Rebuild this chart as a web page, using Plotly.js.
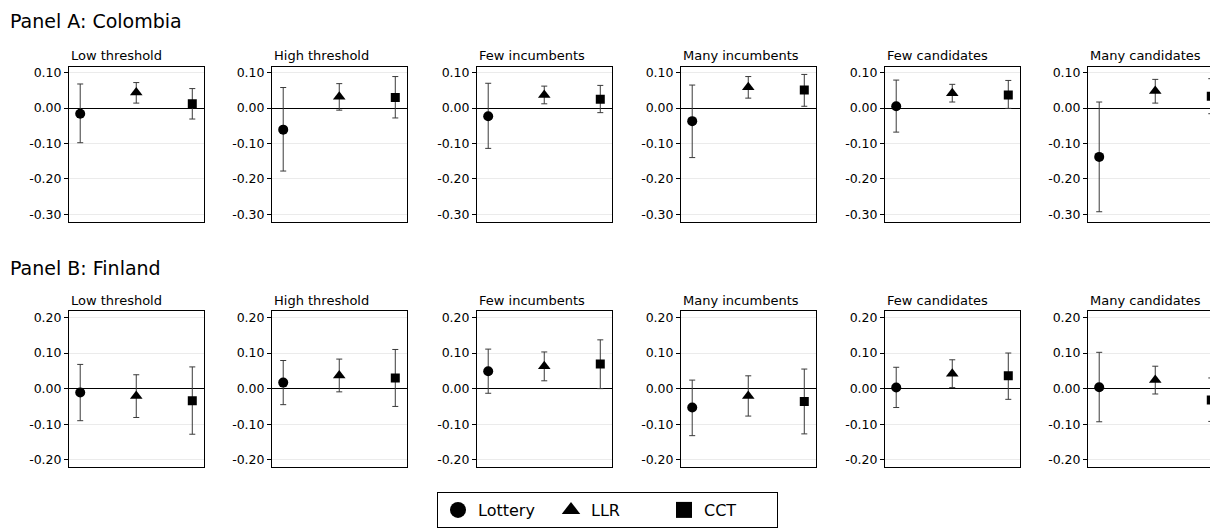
<!DOCTYPE html>
<html><head><meta charset="utf-8">
<script src="https://cdn.plot.ly/plotly-3.0.1.min.js"></script>
<style>html,body{margin:0;padding:0;overflow:hidden;background:#fff}#chart{width:1226px;height:529px}</style>
</head><body><div id="chart"></div>
<script>
// ---------------- DATA ----------------
const subgroups = ['Low threshold', 'High threshold', 'Few incumbents', 'Many incumbents', 'Few candidates', 'Many candidates'];
const estimators = ['Lottery', 'LLR', 'CCT'];
const panelTitles = ['Panel A: Colombia', 'Panel B: Finland'];

// Panel A: Colombia
const colLotteryEst = [-0.016, -0.061, -0.023, -0.037, 0.005, -0.138];
const colLotteryLo  = [-0.098, -0.178, -0.114, -0.140, -0.068, -0.293];
const colLotteryHi  = [ 0.068,  0.058,  0.070,  0.065,  0.079,  0.017];
const colLLREst     = [ 0.044,  0.032,  0.037,  0.059,  0.042,  0.048];
const colLLRLo      = [ 0.014, -0.006,  0.012,  0.028,  0.017,  0.014];
const colLLRHi      = [ 0.072,  0.069,  0.062,  0.089,  0.067,  0.081];
const colCCTEst     = [ 0.012,  0.030,  0.025,  0.051,  0.037,  0.033];
const colCCTLo      = [-0.031, -0.028, -0.013,  0.005, -0.001, -0.016];
const colCCTHi      = [ 0.055,  0.089,  0.064,  0.095,  0.078,  0.083];

// Panel B: Finland
const finLotteryEst = [-0.011,  0.017,  0.049, -0.053,  0.003,  0.004];
const finLotteryLo  = [-0.090, -0.045, -0.013, -0.132, -0.053, -0.093];
const finLotteryHi  = [ 0.068,  0.079,  0.111,  0.024,  0.060,  0.102];
const finLLREst     = [-0.021,  0.037,  0.063, -0.021,  0.042,  0.024];
const finLLRLo      = [-0.081, -0.009,  0.022, -0.077,  0.003, -0.015];
const finLLRHi      = [ 0.039,  0.083,  0.103,  0.036,  0.081,  0.063];
const finCCTEst     = [-0.034,  0.030,  0.069, -0.036,  0.036, -0.032];
const finCCTLo      = [-0.128, -0.050,  0.000, -0.127, -0.030, -0.092];
const finCCTHi      = [ 0.061,  0.110,  0.137,  0.055,  0.100,  0.030];

const tickValsA = [0.10, 0.00, -0.10, -0.20, -0.30];
const tickValsB = [0.20, 0.10, 0.00, -0.10, -0.20];

// ---------------- LAYOUT HELPERS ----------------
const W = 1226, H = 529;
const FONT = 'DejaVu Sans, sans-serif';
const symbols = ['circle', 'triangle-up', 'square'];
const sizes = [10, 11, 9];
const panelLeftPx = [69, 272, 477, 681, 885, 1088];
const panelWidthPx = 134.5;
const rowTopPx = [67, 311], rowBottomPx = [222, 467];
const rowRanges = [[-0.322, 0.116], [-0.22, 0.218]];
const rowTicks = [tickValsA, tickValsB];
const subTitleY = [55, 300];
const panelTitleY = [21, 268];

const countries = [
  [[colLotteryEst, colLotteryLo, colLotteryHi], [colLLREst, colLLRLo, colLLRHi], [colCCTEst, colCCTLo, colCCTHi]],
  [[finLotteryEst, finLotteryLo, finLotteryHi], [finLLREst, finLLRLo, finLLRHi], [finCCTEst, finCCTLo, finCCTHi]]
];

const barTraces = [];
const markerTraces = [];
const layout = {
  width: W, height: H,
  margin: {l: 0, r: 0, t: 0, b: 0},
  paper_bgcolor: '#fff', plot_bgcolor: '#fff',
  font: {family: FONT, color: '#000'},
  showlegend: true,
  annotations: [],
  legend: {
    orientation: 'h', x: 437 / W, y: 1 - 492 / H, xanchor: 'left', yanchor: 'top',
    bordercolor: '#000', borderwidth: 1, bgcolor: '#fff',
    font: {family: FONT, size: 16, color: '#000'},
    entrywidth: 68, entrywidthmode: 'pixels'
  }
};

for (let r = 0; r < 2; r++) {
  for (let i = 0; i < 6; i++) {
    const n = r * 6 + i + 1;
    const xid = n === 1 ? 'x' : 'x' + n;
    const yid = n === 1 ? 'y' : 'y' + n;
    const xkey = n === 1 ? 'xaxis' : 'xaxis' + n;
    const ykey = n === 1 ? 'yaxis' : 'yaxis' + n;
    const data = countries[r];
    // confidence intervals (drawn first, markers hidden)
    barTraces.push({
      type: 'scatter', mode: 'markers',
      x: [1, 2, 3],
      y: data.map(d => d[0][i]),
      error_y: {
        type: 'data', symmetric: false,
        array: data.map(d => d[2][i] - d[0][i]),
        arrayminus: data.map(d => d[0][i] - d[1][i]),
        color: '#3a3a3a', thickness: 1, width: 3
      },
      marker: {size: 1, opacity: 0, color: '#000'},
      xaxis: xid, yaxis: yid, showlegend: false, hoverinfo: 'skip'
    });
    // point estimates on top
    markerTraces.push({
      type: 'scatter', mode: 'markers',
      x: [1, 2, 3],
      y: data.map(d => d[0][i]),
      marker: {symbol: symbols, size: sizes, color: '#000', opacity: 1, line: {width: 0}},
      xaxis: xid, yaxis: yid, showlegend: false, hoverinfo: 'skip'
    });
    const l = panelLeftPx[i];
    layout[xkey] = {
      domain: [l / W, (l + panelWidthPx) / W], anchor: yid,
      range: [0.8, 3.2], showticklabels: false, ticks: '', showgrid: false, zeroline: false,
      showline: true, mirror: true, linecolor: '#000', linewidth: 1, fixedrange: true
    };
    layout[ykey] = {
      domain: [1 - rowBottomPx[r] / H, 1 - rowTopPx[r] / H], anchor: xid,
      range: rowRanges[r],
      tickvals: rowTicks[r], ticktext: rowTicks[r].map(v => v.toFixed(2)),
      ticks: 'outside', ticklen: 4, tickwidth: 1, tickcolor: '#000',
      tickfont: {family: FONT, size: 12.5, color: '#000'},
      showgrid: true, gridcolor: '#ebebeb', gridwidth: 1,
      zeroline: true, zerolinecolor: '#000', zerolinewidth: 1,
      showline: true, mirror: true, linecolor: '#000', linewidth: 1, fixedrange: true
    };
    layout.annotations.push({
      text: subgroups[i], xref: 'paper', yref: 'paper',
      x: l / W, y: 1 - subTitleY[r] / H, xanchor: 'left', yanchor: 'middle',
      showarrow: false, font: {family: FONT, size: 13, color: '#000'}
    });
  }
  layout.annotations.push({
    text: panelTitles[r], xref: 'paper', yref: 'paper',
    x: 8 / W, y: 1 - panelTitleY[r] / H, xanchor: 'left', yanchor: 'middle',
    showarrow: false, font: {family: FONT, size: 19, color: '#000'}
  });
}

// legend entries
const legendTraces = estimators.map((name, k) => ({
  type: 'scatter', mode: 'markers', name: name,
  x: [null], y: [null], xaxis: 'x', yaxis: 'y',
  marker: {symbol: symbols[k], size: 16, color: '#000'},
  showlegend: true, hoverinfo: 'skip'
}));

Plotly.newPlot('chart', barTraces.concat(markerTraces, legendTraces), layout, {displayModeBar: false, staticPlot: true});
</script>
</body></html>
